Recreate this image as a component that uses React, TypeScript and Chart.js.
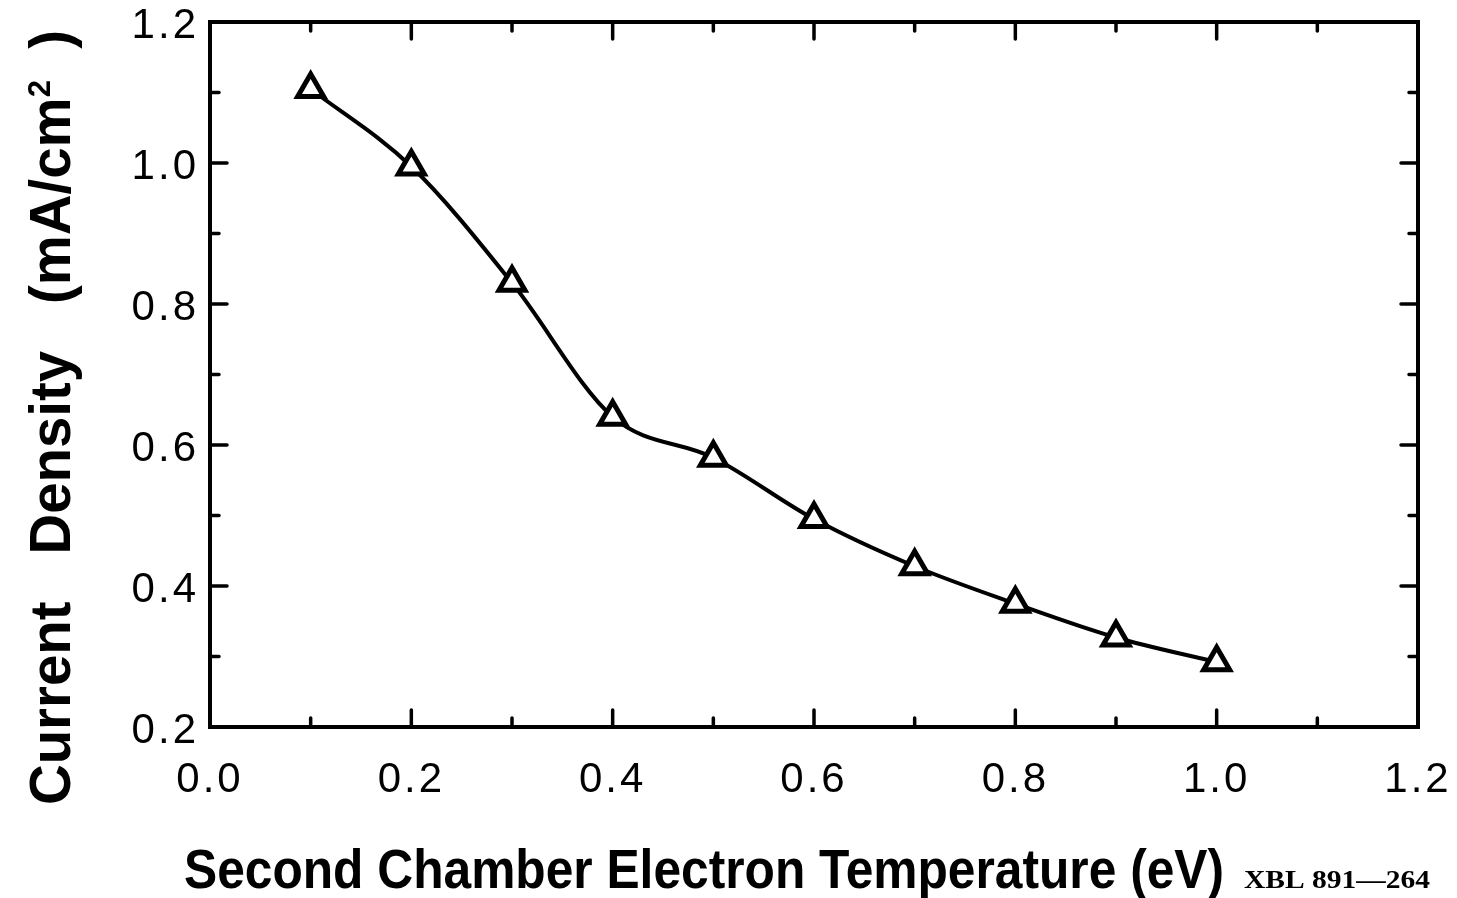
import React, { useEffect, useRef } from "react";
import { Chart, registerables } from "chart.js";

Chart.register(...registerables);

// ---- data ----
const temperatures = [0.1, 0.2, 0.3, 0.4, 0.5, 0.6, 0.7, 0.8, 0.9, 1.0];
const currentDensity = [1.105, 0.995, 0.83, 0.64, 0.582, 0.495, 0.428, 0.375, 0.327, 0.292];

const xMajorTicks = [0, 0.2, 0.4, 0.6, 0.8, 1.0, 1.2];
const xMinorTicks = [0.1, 0.3, 0.5, 0.7, 0.9, 1.1];
const yMajorTicks = [0.2, 0.4, 0.6, 0.8, 1.0, 1.2];
const yMinorTicks = [0.3, 0.5, 0.7, 0.9, 1.1];
const xTickLabels = ["0.0", "0.2", "0.4", "0.6", "0.8", "1.0", "1.2"];
const yTickLabels = ["0.2", "0.4", "0.6", "0.8", "1.0", "1.2"];

const xTitle = "Second Chamber Electron Temperature (eV)";
const yTitleMain = "Current   Density   (mA/cm";
const yTitleSup = "2";
const yTitleEnd = "  )";
const figureCode = "XBL 891\u2014264";

const SANS = "'Liberation Sans', Arial, Helvetica, sans-serif";
const SERIF = "'Liberation Serif', 'Times New Roman', serif";

function measureParts(ctx: CanvasRenderingContext2D, parts: { text: string; font: string }[]) {
  let w = 0;
  for (const p of parts) {
    ctx.font = p.font;
    w += ctx.measureText(p.text).width;
  }
  return w;
}

const framePlugin = {
  id: "framePlugin",
  afterDatasetsDraw(chart: any) {
    (chart.ctx as any).letterSpacing = "3px";
  },
  afterDraw(chart: any) {
    const ctx: CanvasRenderingContext2D = chart.ctx;
    (ctx as any).letterSpacing = "0px";
    const { left, right, top, bottom } = chart.chartArea;
    const xs = chart.scales.x;
    const ys = chart.scales.y;
    ctx.save();
    ctx.strokeStyle = "#000";
    ctx.fillStyle = "#000";
    // frame
    ctx.lineWidth = 4;
    ctx.lineJoin = "miter";
    ctx.strokeRect(left, top, right - left, bottom - top);
    // inward ticks
    ctx.lineWidth = 3.5;
    ctx.lineCap = "round";
    const major = 17;
    const minor = 9;
    const drawX = (v: number, len: number) => {
      const px = xs.getPixelForValue(v);
      ctx.beginPath();
      ctx.moveTo(px, bottom);
      ctx.lineTo(px, bottom - len);
      ctx.moveTo(px, top);
      ctx.lineTo(px, top + len);
      ctx.stroke();
    };
    const drawY = (v: number, len: number) => {
      const py = ys.getPixelForValue(v);
      ctx.beginPath();
      ctx.moveTo(left, py);
      ctx.lineTo(left + len, py);
      ctx.moveTo(right, py);
      ctx.lineTo(right - len, py);
      ctx.stroke();
    };
    xMajorTicks.forEach((v) => drawX(v, major));
    xMinorTicks.forEach((v) => drawX(v, minor));
    yMajorTicks.forEach((v) => drawY(v, major));
    yMinorTicks.forEach((v) => drawY(v, minor));

    ctx.textAlign = "left";
    ctx.textBaseline = "alphabetic";

    // x title (condensed bold)
    const xFont = `bold 56px ${SANS}`;
    const xw = measureParts(ctx, [{ text: xTitle, font: xFont }]);
    ctx.save();
    ctx.translate(184, 888);
    ctx.scale(1040 / xw, 1);
    ctx.font = xFont;
    ctx.fillText(xTitle, 0, 0);
    ctx.restore();

    // figure code
    const cFont = `bold 26px ${SERIF}`;
    const cw = measureParts(ctx, [{ text: figureCode, font: cFont }]);
    ctx.save();
    ctx.translate(1244, 888);
    ctx.scale(186 / cw, 1);
    ctx.font = cFont;
    ctx.fillText(figureCode, 0, 0);
    ctx.restore();

    // y title (rotated, condensed)
    const yFont = `bold 58px ${SANS}`;
    const supFont = `bold 32px ${SANS}`;
    const yw = measureParts(ctx, [
      { text: yTitleMain, font: yFont },
      { text: yTitleSup, font: supFont },
      { text: yTitleEnd, font: yFont },
    ]);
    ctx.save();
    ctx.translate(70, 805);
    ctx.rotate(-Math.PI / 2);
    ctx.scale(775 / yw, 1);
    let cx = 0;
    ctx.font = yFont;
    ctx.fillText(yTitleMain, cx, 0);
    cx += ctx.measureText(yTitleMain).width;
    ctx.font = supFont;
    ctx.fillText(yTitleSup, cx, -20);
    cx += ctx.measureText(yTitleSup).width;
    ctx.font = yFont;
    ctx.fillText(yTitleEnd, cx, 0);
    ctx.restore();

    ctx.restore();
    (ctx as any).letterSpacing = "0px";
  },
};

export default function App() {
  const canvasRef = useRef<HTMLCanvasElement | null>(null);

  useEffect(() => {
    const canvas = canvasRef.current;
    if (!canvas) return;
    const chart = new Chart(canvas, {
      type: "line",
      data: {
        datasets: [
          {
            data: temperatures.map((t, i) => ({ x: t, y: currentDensity[i] })),
            borderColor: "#000",
            borderWidth: 4,
            cubicInterpolationMode: "monotone",
            pointStyle: "triangle",
            pointRadius: 15,
            pointBorderWidth: 5,
            pointBorderColor: "#000",
            pointBackgroundColor: "#fff",
            fill: false,
          } as any,
        ],
      },
      options: {
        animation: false,
        responsive: false,
        maintainAspectRatio: false,
        devicePixelRatio: 1,
        layout: { padding: { top: 22, right: 39, bottom: 0, left: 0 } },
        plugins: {
          legend: { display: false },
          tooltip: { enabled: false },
        },
        scales: {
          x: {
            type: "linear",
            min: 0,
            max: 1.2,
            grid: { display: false },
            border: { display: false },
            afterBuildTicks: (s: any) => {
              s.ticks = xMajorTicks.map((v) => ({ value: v }));
            },
            afterFit: (s: any) => {
              s.height = 171;
              s.paddingLeft = 0;
              s.paddingRight = 0;
            },
            ticks: {
              z: 1,
              autoSkip: false,
              maxRotation: 0,
              padding: 20,
              color: "#000",
              font: { family: SANS, size: 42 },
              callback: (_v: any, i: number) => xTickLabels[i],
            },
          },
          y: {
            type: "linear",
            min: 0.2,
            max: 1.2,
            grid: { display: false },
            border: { display: false },
            afterBuildTicks: (s: any) => {
              s.ticks = yMajorTicks.map((v) => ({ value: v }));
            },
            afterFit: (s: any) => {
              s.width = 210;
              s.paddingTop = 0;
              s.paddingBottom = 0;
            },
            ticks: {
              z: 1,
              autoSkip: false,
              padding: 3,
              labelOffset: 4,
              color: "#000",
              font: { family: SANS, size: 42 },
              callback: (_v: any, i: number) => yTickLabels[i],
            },
          },
        },
      } as any,
      plugins: [framePlugin],
    });
    return () => chart.destroy();
  }, []);

  return (
    <div style={{ position: "fixed", left: 0, top: 0, width: 1457, height: 898, background: "#fff" }}>
      <canvas ref={canvasRef} width={1457} height={898} style={{ display: "block" }} />
    </div>
  );
}
